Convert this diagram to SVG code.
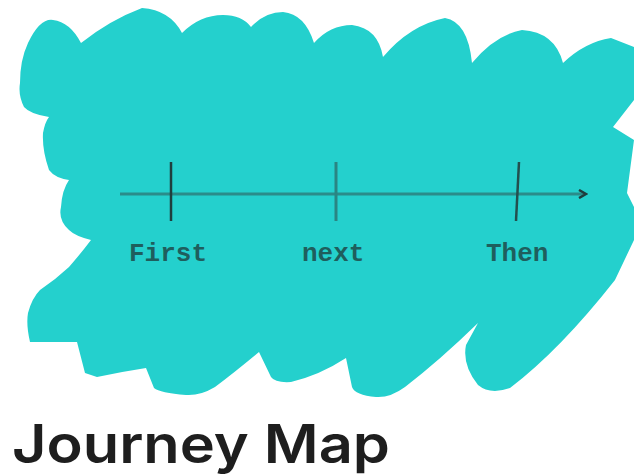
<svg xmlns="http://www.w3.org/2000/svg" width="634" height="475" viewBox="0 0 634 475">
<style>
.lbl{font-family:"Liberation Mono","DejaVu Sans Mono",monospace;font-size:26px;font-weight:bold;fill:#1f5e5d}
.title{font-family:Inter,"Liberation Sans",sans-serif;font-size:53px;font-weight:600;fill:#1e1e1e}
.axis{stroke:#2a8c8a;stroke-width:3;fill:none}
</style>
<defs>
<marker id="arr" markerWidth="10" markerHeight="10" refX="7" refY="5" orient="auto" markerUnits="userSpaceOnUse">
<path d="M1,1 L8,5 L1,9" fill="none" stroke="#1f3d3c" stroke-width="2.5"/>
</marker>
</defs>
<g id="blob">
<path fill="#24d0cd" d="M28,43 Q40,18 53,20 Q70,22 81,43 Q110,20 142,8 Q170,10 182,33 Q200,15 223,15 Q242,15 251,27 Q265,12 283,12 Q305,14 314,43 Q330,25 352,25 Q378,28 383,57 Q410,25 445,18 Q468,22 472,63 Q495,35 522,30 Q555,32 563,63 Q585,42 611,38 L634,47 L634,100 L613,127 L634,140 L627,193 L634,207 L634,240 L615,280 Q560,350 510,388 Q490,395 478,385 Q462,365 466,345 L478,323 Q440,360 405,387 Q390,398 376,397 Q355,395 352,387 L346,358 Q320,375 291,382 Q275,383 271,377 L259,352 Q235,372 215,387 Q200,396 186,395 Q160,393 154,388 L146,368 Q120,372 97,377 L85,373 L77,342 L30,342 Q26,325 28,313 Q32,298 40,290 Q55,280 69,267 Q82,252 91,240 Q75,236 69,230 Q58,220 61,207 Q62,190 69,180 Q55,178 49,170 Q42,150 43,133 Q45,122 49,117 Q30,114 24,107 Q18,95 20,83 Q20,60 28,43 Z"/>
</g>
<g id="connectors">
<line class="axis" x1="120" y1="194" x2="585" y2="194" marker-end="url(#arr)"/>
</g>
<g id="tick-first">
<line x1="171" y1="162" x2="171" y2="221" stroke="#1f3f3e" stroke-width="2.5"/>
<text class="lbl" x="129" y="261">First</text>
</g>
<g id="tick-next">
<line x1="336" y1="162" x2="336" y2="221" stroke="#2a8582" stroke-width="3"/>
<text class="lbl" x="302" y="261">next</text>
</g>
<g id="tick-then">
<line x1="519" y1="162" x2="516" y2="221" stroke="#234f4e" stroke-width="2.5"/>
<text class="lbl" x="486" y="261">Then</text>
</g>
<g id="title">
<text class="title" x="12" y="463" textLength="378" lengthAdjust="spacingAndGlyphs">Journey Map</text>
</g>
</svg>
